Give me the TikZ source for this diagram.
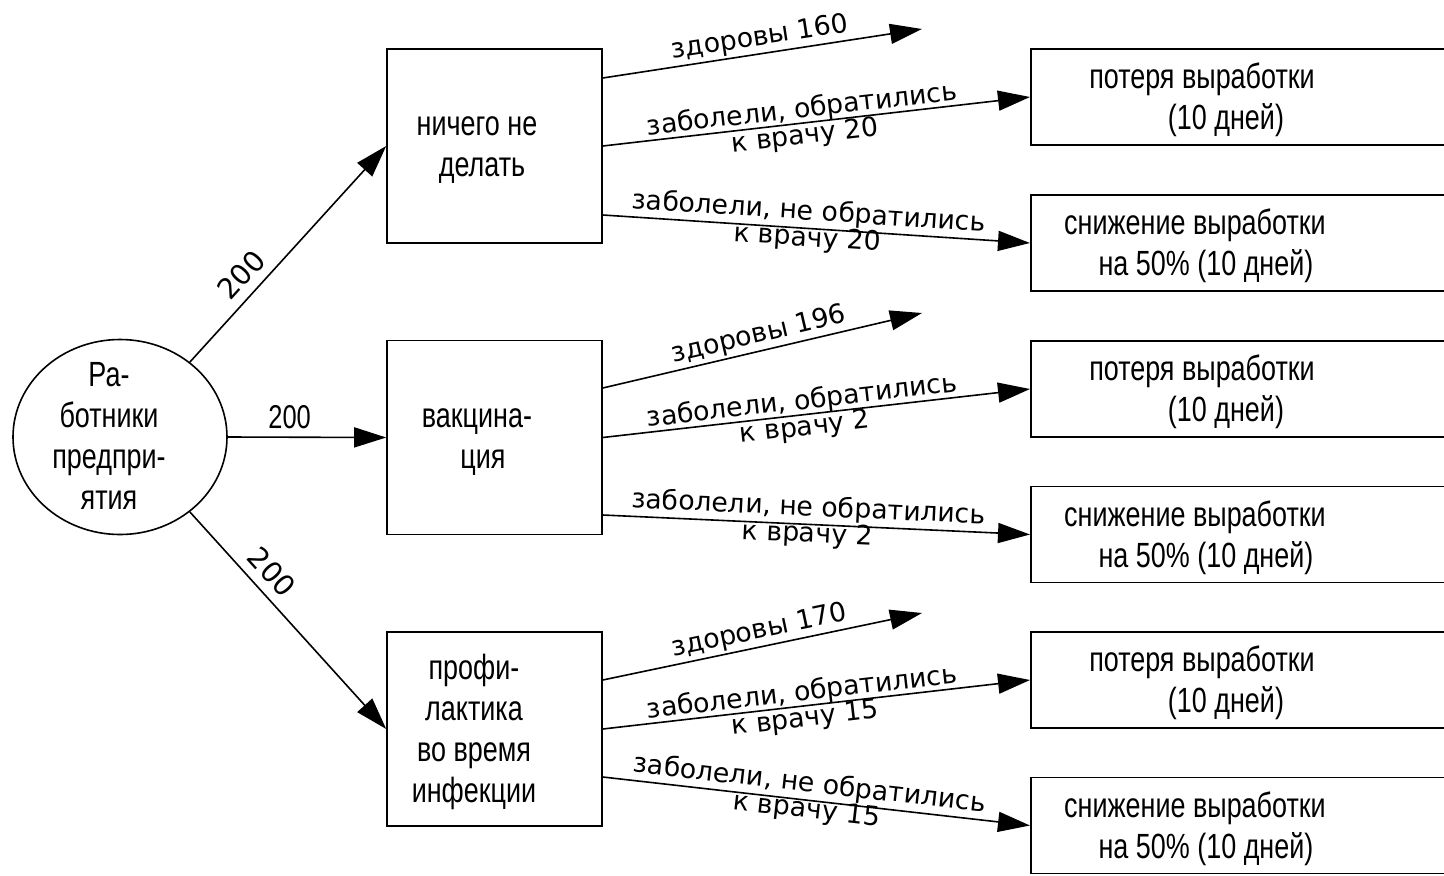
\documentclass[tikz,border=0pt]{standalone}
\usepackage{fontspec}
\setmainfont[FakeStretch=0.77]{Liberation Sans}
\newfontfamily\edgefont{DejaVu Sans}
\usetikzlibrary{arrows.meta,calc,shapes.geometric}
\begin{document}
\begin{tikzpicture}[x=1pt,y=-1pt,
  line width=1.6pt,
  box/.style={draw, line width=1.6pt, minimum width=215pt, minimum height=194pt, inner sep=0pt},
  outbox/.style={draw, line width=1.6pt, minimum width=470pt, minimum height=96pt, inner sep=0pt, anchor=west},
  btext/.style={font=\fontsize{35}{41}\selectfont, align=center, inner sep=0pt},
  numlab/.style={font=\fontsize{33}{41}\selectfont, sloped, above, inner sep=8pt},
  rotlab/.style={font=\edgefont\fontsize{28.5}{30}\selectfont, sloped, above, inner sep=9pt},
  elab/.style={font=\edgefont\fontsize{26.7}{21}\selectfont, align=center, sloped, inner sep=0pt},
  hlab/.style={font=\edgefont\fontsize{26.7}{21}\selectfont, sloped, above, inner sep=2pt},
  arr/.style={-{Triangle[length=32pt,width=20pt]}},
]
\useasboundingbox (0,0) rectangle (1444,876);

% root
\node[draw, ellipse, line width=1.6pt, minimum width=214pt, minimum height=195pt, inner sep=0pt] (c) at (120,437) {};
\node[btext] (ct) at (109,436) {Ра-\\ботники\\предпри-\\ятия};

% middle boxes
\node[box] (b1) at (494.5,146) {};
\node[box] (b2) at (494.5,437.5) {};
\node[box] (b3) at (494.5,729) {};
\node[btext] (t1) at (477,150) {ничего не\\\hspace*{10pt}делать};
\node[btext] (t2) at (477,442) {вакцина-\\\hspace*{12pt}ция};
\node[btext] (t3) at (474,732) {профи-\\лактика\\во время\\инфекции};

% right boxes
\node[outbox] (r1) at (1030,97) {};
\node[outbox] (r2) at (1030,243) {};
\node[outbox] (r3) at (1030,389) {};
\node[outbox] (r4) at (1030,534.5) {};
\node[outbox] (r5) at (1030,680) {};
\node[outbox] (r6) at (1030,825.5) {};
\node[btext] (rt1) at (1202,100) {потеря выработки\\\hspace*{48pt}(10 дней)};
\node[btext] (rt2) at (1195,246) {снижение выработки\\\hspace*{22pt}на 50\% (10 дней)};
\node[btext] (rt3) at (1202,392) {потеря выработки\\\hspace*{48pt}(10 дней)};
\node[btext] (rt4) at (1195,537.5) {снижение выработки\\\hspace*{22pt}на 50\% (10 дней)};
\node[btext] (rt5) at (1202,683) {потеря выработки\\\hspace*{48pt}(10 дней)};
\node[btext] (rt6) at (1195,828.5) {снижение выработки\\\hspace*{22pt}на 50\% (10 дней)};

% free ends of "healthy" arrows
\coordinate (h1) at (922,29);
\coordinate (h2) at (922,313);
\coordinate (h3) at (922,613);

% root edges
\draw[arr] (c.47) -- (b1.west) node[rotlab, pos=0.34] (n1) {200};
\draw[arr] (c.east) -- (b2.west) node[numlab, pos=0.39] (n2) {200};
\draw[arr] (c.-47) -- (b3.west) node[rotlab, pos=0.34] (n3) {200};

% box 1
\draw[arr] ($(b1.east)+(0,-68)$) -- (h1) node[hlab, pos=0.5] (l11) {здоровы 160};
\draw[arr] (b1.east) -- (r1.west) node[elab, pos=0.47] (l12) {заболели, обратились\\к врачу 20};
\draw[arr] ($(b1.east)+(0,69)$) -- (r2.west) node[elab, pos=0.48, yshift=3pt] (l13) {заболели, не обратились\\к врачу 20};

% box 2
\draw[arr] ($(b2.east)+(0,-49.5)$) -- (h2) node[hlab, pos=0.5] (l21) {здоровы 196};
\draw[arr] (b2.east) -- (r3.west) node[elab, pos=0.47] (l22) {заболели, обратились\\к врачу 2};
\draw[arr] ($(b2.east)+(0,77.5)$) -- (r4.west) node[elab, pos=0.48, yshift=3pt] (l23) {заболели, не обратились\\к врачу 2};

% box 3
\draw[arr] ($(b3.east)+(0,-49)$) -- (h3) node[hlab, pos=0.5] (l31) {здоровы 170};
\draw[arr] (b3.east) -- (r5.west) node[elab, pos=0.47] (l32) {заболели, обратились\\к врачу 15};
\draw[arr] ($(b3.east)+(0,48)$) -- (r6.west) node[elab, pos=0.48, yshift=3pt] (l33) {заболели, не обратились\\к врачу 15};
\end{tikzpicture}
\end{document}
